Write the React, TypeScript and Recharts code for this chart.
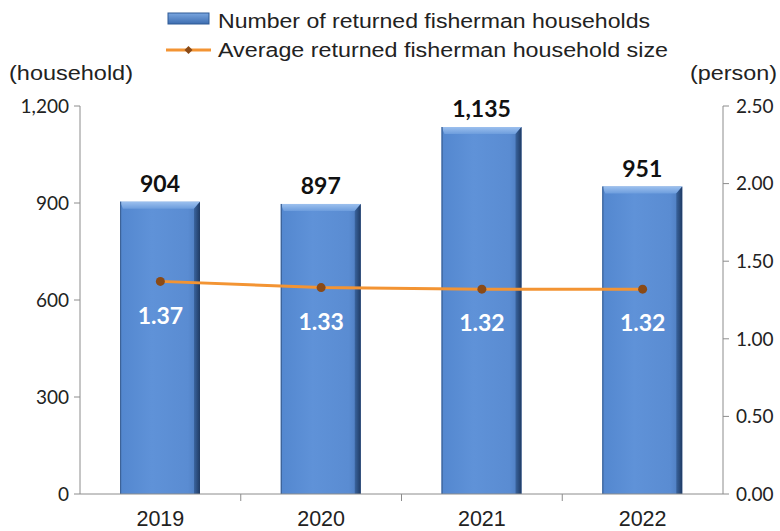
import React from 'react';
import {
  ComposedChart,
  Bar,
  Line,
  XAxis,
  YAxis,
  LabelList,
} from 'recharts';

const years = ['2019', '2020', '2021', '2022'];
const households = [904, 897, 1135, 951];
const householdSize = [1.37, 1.33, 1.32, 1.32];
const leftTicks = [0, 300, 600, 900, 1200];
const rightTicks = [0, 0.5, 1, 1.5, 2, 2.5];
const seriesNames = [
  'Number of returned fisherman households',
  'Average returned fisherman household size',
];
const axisTitles = ['(household)', '(person)'];

const data = years.map((year, i) => ({
  year,
  households: households[i],
  size: householdSize[i],
}));

const AXIS = '#8c8c8c';
const TEXT = '#222';
const ARIAL = "'Liberation Sans', Arial, sans-serif";
const CALIBRI = "Lato, 'Liberation Sans', sans-serif";

function BevelBar(props: any) {
  const { x, y, width, height } = props;
  if (!height || height <= 0) return null;
  const bevel = 7;
  const edge = 6;
  return (
    <g>
      <rect x={x} y={y} width={width} height={height} fill="url(#barBody)" />
      <polygon
        points={`${x},${y} ${x + width},${y} ${x + width - edge},${y + bevel} ${x + edge * 0.5},${y + bevel}`}
        fill="url(#barTop)"
      />
      <polygon
        points={`${x + width},${y} ${x + width},${y + height} ${x + width - edge},${y + height} ${x + width - edge},${y + bevel}`}
        fill="url(#barSide)"
      />
      <rect x={x} y={y} width={1.2} height={height} fill="#3d6398" />
    </g>
  );
}

function YearTick(props: any) {
  const { x, y, payload, index } = props;
  const band = 160.75;
  return (
    <g>
      {index > 0 && (
        <line x1={x - band / 2} y1={y - 8} x2={x - band / 2} y2={y - 1} stroke={AXIS} strokeWidth={1} />
      )}
      <text x={x} y={y + 24} textAnchor="middle" fill={TEXT} fontSize={21.5} fontFamily={ARIAL}>
        {payload.value}
      </text>
    </g>
  );
}

function Overlay() {
  return (
    <svg
      width={780}
      height={100}
      style={{ position: 'absolute', left: 0, top: 0, pointerEvents: 'none' }}
    >
      <defs>
        <linearGradient id="legBar" x1="0" y1="0" x2="0" y2="1">
          <stop offset="0%" stopColor="#7aa6e0" />
          <stop offset="100%" stopColor="#3d6db0" />
        </linearGradient>
      </defs>
      <rect x={168} y={13} width={41} height={11} fill="url(#legBar)" stroke="#2f5a95" strokeWidth={1} />
      <text x={218} y={27.5} fontSize={20} fontFamily={ARIAL} fill={TEXT} textLength={432} lengthAdjust="spacingAndGlyphs">
        {seriesNames[0]}
      </text>
      <line x1={166} y1={50} x2={211} y2={50} stroke="#f39433" strokeWidth={3} />
      <polygon points="188.5,46 192.5,50 188.5,54 184.5,50" fill="#8a4a16" />
      <text x={218} y={57} fontSize={20} fontFamily={ARIAL} fill={TEXT} textLength={450} lengthAdjust="spacingAndGlyphs">
        {seriesNames[1]}
      </text>
      <text x={9} y={80} fontSize={20} fontFamily={ARIAL} fill={TEXT} textLength={124} lengthAdjust="spacingAndGlyphs">
        {axisTitles[0]}
      </text>
      <text x={690} y={80} fontSize={20} fontFamily={ARIAL} fill={TEXT} textLength={87} lengthAdjust="spacingAndGlyphs">
        {axisTitles[1]}
      </text>
    </svg>
  );
}

export default function App() {
  return (
    <div style={{ position: 'absolute', left: 0, top: 0, width: 780, height: 531, background: '#fff' }}>
      <ComposedChart
        width={780}
        height={531}
        data={data}
        margin={{ top: 106, right: 0, left: 0, bottom: 0 }}
      >
        <defs>
          <linearGradient id="barBody" x1="0" y1="0" x2="1" y2="0">
            <stop offset="0%" stopColor="#5387cf" />
            <stop offset="40%" stopColor="#5f92d8" />
            <stop offset="85%" stopColor="#5a8cd2" />
            <stop offset="100%" stopColor="#4a78ba" />
          </linearGradient>
          <linearGradient id="barTop" x1="0" y1="0" x2="0" y2="1">
            <stop offset="0%" stopColor="#9cc0ee" />
            <stop offset="100%" stopColor="#6d9ddd" />
          </linearGradient>
          <linearGradient id="barSide" x1="0" y1="0" x2="1" y2="0">
            <stop offset="0%" stopColor="#3a649e" />
            <stop offset="100%" stopColor="#1f3a63" />
          </linearGradient>
        </defs>
        <XAxis
          dataKey="year"
          height={37}
          axisLine={{ stroke: AXIS }}
          tickLine={false}
          tick={<YearTick />}
          interval={0}
        />
        <YAxis
          yAxisId="left"
          width={80}
          domain={[0, 1200]}
          ticks={leftTicks}
          interval={0}
          axisLine={{ stroke: AXIS }}
          tickLine={{ stroke: AXIS }}
          tickSize={6}
          tickMargin={5}
          tickFormatter={(v: number) => v.toLocaleString('en-US')}
          tick={{ fill: TEXT, fontSize: 19, fontFamily: CALIBRI }}
        />
        <YAxis
          yAxisId="right"
          orientation="right"
          width={57}
          domain={[0, 2.5]}
          ticks={rightTicks}
          interval={0}
          axisLine={{ stroke: AXIS }}
          tickLine={{ stroke: AXIS }}
          tickSize={6}
          tickMargin={7}
          tickFormatter={(v: number) => v.toFixed(2)}
          tick={{ fill: TEXT, fontSize: 19, fontFamily: CALIBRI }}
        />
        <Bar
          yAxisId="left"
          dataKey="households"
          barSize={80}
          shape={<BevelBar />}
          isAnimationActive={false}
        >
          <LabelList
            dataKey="households"
            position="top"
            offset={10}
            formatter={(v: number) => v.toLocaleString('en-US')}
            style={{ fill: '#111', fontSize: 23, fontWeight: 700, fontFamily: CALIBRI }}
          />
        </Bar>
        <Line
          yAxisId="right"
          dataKey="size"
          stroke="#f39433"
          strokeWidth={3}
          dot={{ r: 4.5, fill: '#8a4a16', stroke: '#8a4a16', strokeWidth: 0 }}
          isAnimationActive={false}
        >
          <LabelList
            dataKey="size"
            position="bottom"
            offset={26}
            formatter={(v: number) => v.toFixed(2)}
            style={{ fill: '#fff', fontSize: 23, fontWeight: 700, fontFamily: CALIBRI }}
          />
        </Line>
      </ComposedChart>
      <Overlay />
    </div>
  );
}
